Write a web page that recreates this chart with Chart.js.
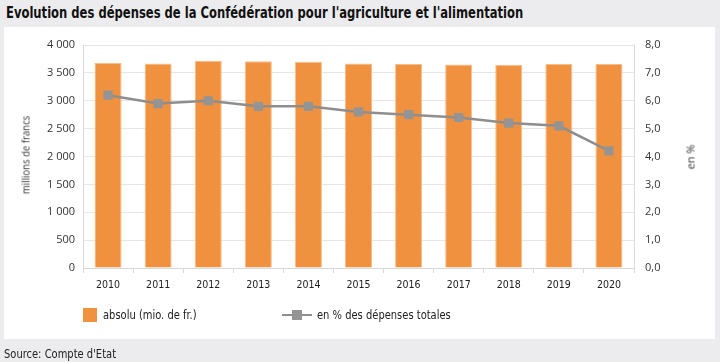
<!DOCTYPE html>
<html>
<head>
<meta charset="utf-8">
<script src="https://cdn.jsdelivr.net/npm/chart.js@4.4.1/dist/chart.umd.min.js"></script>
<style>
  html, body { margin: 0; padding: 0; }
  body { width: 720px; height: 362px; background: #ECECEE; position: relative; overflow: hidden;
         font-family: "DejaVu Sans Condensed", "DejaVu Sans", sans-serif; color: #1a1a1a; }
  #panel { position: absolute; left: 4px; top: 27px; width: 711px; height: 312px; background: #fff; }
  #title { position: absolute; left: 6px; top: 4px; font-size: 15.5px; font-weight: bold; white-space: nowrap; color: #111;
           transform: scaleX(0.83); transform-origin: left top; }
  #source { position: absolute; left: 4px; top: 346px; font-size: 13px; white-space: nowrap; color: #222;
            transform: scaleX(0.85); transform-origin: left top; }
  #chartwrap { position: absolute; left: 0; top: 0; width: 720px; height: 362px; }
  .ytitle { position: absolute; font-family: "Open Sans", sans-serif; font-size: 11px; color: #333; white-space: nowrap; }
  #yl { left: 25px; top: 155px; transform: translate(-50%, -50%) rotate(-90deg) scaleX(0.87); }
  #yr { left: 690px; top: 157px; transform: translate(-50%, -50%) rotate(-90deg); }
  .leg { position: absolute; top: 307px; font-size: 13px; white-space: nowrap; color: #222; line-height: 16px;
         transform: scaleX(0.85); transform-origin: left top; }
  #sw1 { position: absolute; left: 83px; top: 308px; width: 14px; height: 14px; background: #F0913F; }
  #l1 { left: 103px; }
  #swl { position: absolute; left: 282px; top: 314px; width: 30px; height: 2px; background: #8E8E8E; }
  #swm { position: absolute; left: 292px; top: 310px; width: 10px; height: 10px; background: #949494; }
  #l2 { left: 317px; }
</style>
</head>
<body>
<div id="panel"></div>
<div id="title">Evolution des dépenses de la Confédération pour l'agriculture et l'alimentation</div>
<div id="chartwrap"><canvas id="c" width="720" height="362"></canvas></div>
<div class="ytitle" id="yl">millions de francs</div>
<div class="ytitle" id="yr">en %</div>
<div id="sw1"></div><div class="leg" id="l1">absolu (mio. de fr.)</div>
<div id="swl"></div><div id="swm"></div><div class="leg" id="l2">en % des dépenses totales</div>
<div id="source">Source: Compte d'Etat</div>
<script>
const years = ["2010","2011","2012","2013","2014","2015","2016","2017","2018","2019","2020"];
const absolu = [3677, 3670, 3718, 3710, 3700, 3670, 3660, 3650, 3645, 3660, 3660];
const pourcent = [6.2, 5.9, 6.0, 5.8, 5.8, 5.6, 5.5, 5.4, 5.2, 5.1, 4.2];
const leftTicks = [0, 500, 1000, 1500, 2000, 2500, 3000, 3500, 4000];
const rightTicks = [0, 1, 2, 3, 4, 5, 6, 7, 8];

const tickFont = { family: "Open Sans", size: 11 };
new Chart(document.getElementById('c'), {
  type: 'bar',
  data: {
    labels: years,
    datasets: [
      { type: 'line', label: 'en % des dépenses totales', data: pourcent, yAxisID: 'y1', order: 0,
        borderColor: '#8E8E8E', borderWidth: 2.5, pointStyle: 'rect', pointRadius: 6.5,
        pointBackgroundColor: '#949494', pointBorderColor: '#949494', pointBorderWidth: 0, tension: 0 },
      { type: 'bar', label: 'absolu (mio. de fr.)', data: absolu, yAxisID: 'y', order: 1,
        backgroundColor: '#F0913F', borderColor: '#F7BE8C', borderWidth: 1,
        barPercentage: 0.54, categoryPercentage: 1.0 }
    ]
  },
  options: {
    responsive: false, animation: false, devicePixelRatio: 1,
    layout: { padding: { top: 45, left: 0, right: 0, bottom: 0 } },
    plugins: { legend: { display: false }, tooltip: { enabled: false } },
    scales: {
      x: {
        afterFit: s => { s.height = 94; },
        grid: { display: true, drawOnChartArea: false, drawTicks: true, tickLength: 5, color: '#D9D9D9', offset: true },
        border: { display: true, color: '#D9D9D9' },
        ticks: { color: '#222', font: { family: "DejaVu Sans Condensed", size: 10.5 }, padding: 6, maxRotation: 0 }
      },
      y: {
        position: 'left', min: 0, max: 4000,
        afterFit: s => { s.width = 83; },
        afterBuildTicks: s => { s.ticks = leftTicks.map(v => ({ value: v })); },
        grid: { color: '#E6E6E6', drawTicks: false, lineWidth: 1 },
        border: { display: true, color: '#DADADA' },
        ticks: { color: '#333', font: tickFont, padding: 8,
                 callback: v => v >= 1000 ? Math.floor(v/1000) + ' ' + String(v % 1000).padStart(3,'0') : String(v) }
      },
      y1: {
        position: 'right', min: 0, max: 8,
        afterFit: s => { s.width = 86; },
        afterBuildTicks: s => { s.ticks = rightTicks.map(v => ({ value: v })); },
        grid: { drawOnChartArea: false, drawTicks: false },
        border: { display: true, color: '#DADADA' },
        ticks: { color: '#333', font: tickFont, padding: 11, callback: v => v.toFixed(1).replace('.', ',') }
      }
    }
  }
});
</script>
</body>
</html>
